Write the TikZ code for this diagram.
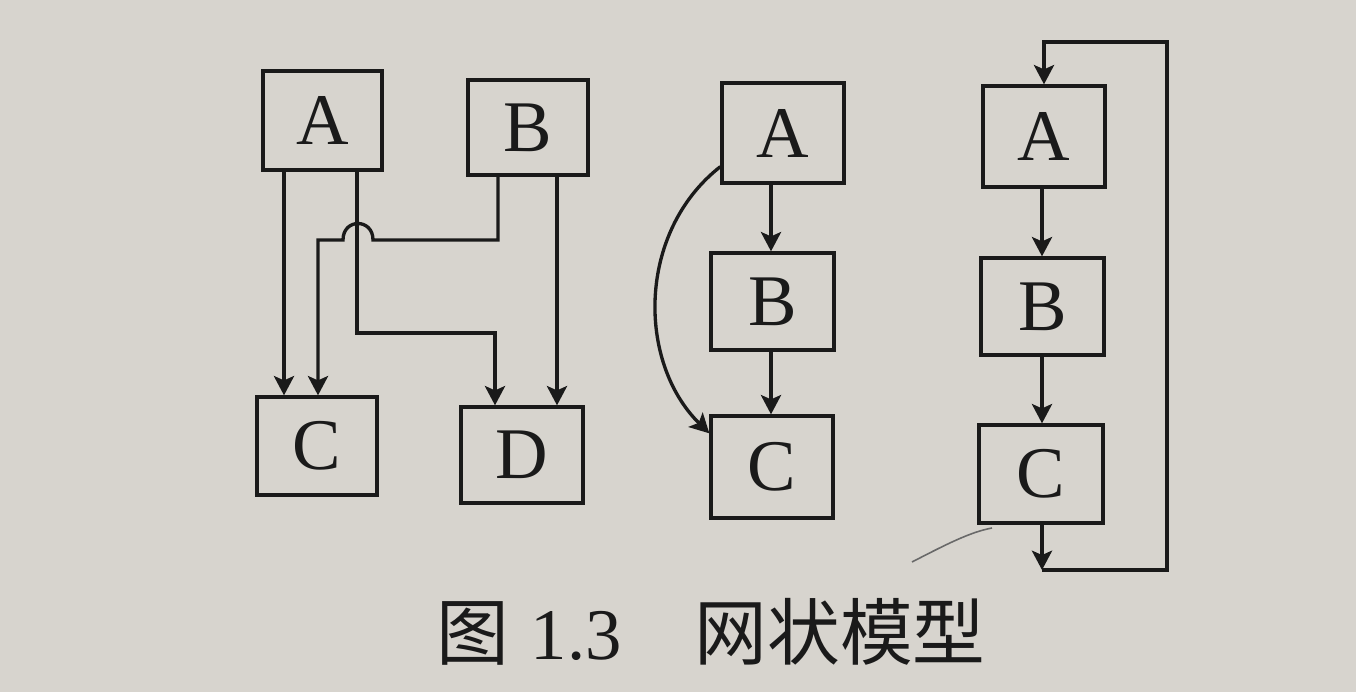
\documentclass[tikz,border=0pt]{standalone}
\usepackage{fontspec}
\setmainfont{Liberation Serif}
\newfontfamily\cjk{Noto Sans CJK SC}
\usetikzlibrary{arrows.meta,calc}
\definecolor{paper}{RGB}{215,212,206}
\definecolor{ink}{RGB}{26,26,26}
\definecolor{pencil}{RGB}{105,105,105}
\begin{document}
\begin{tikzpicture}[x=0.02cm,y=-0.02cm,
  box/.style={draw=ink, line width=1.9pt, inner sep=0pt, text=ink, font=\fontsize{41.4}{48}\selectfont},
  wire/.style={draw=ink, line width=1.9pt},
  arr/.style={wire,-{Stealth[length=11pt,width=11.5pt,inset=2.5pt]}},
]
\fill[paper] (0,0) rectangle (1356,692);
\useasboundingbox (0,0) rectangle (1356,692);

% diagram 1
\node[box, minimum width=2.38cm, minimum height=1.98cm] (A1) at (322.5,120.5) {A};
\node[box, minimum width=2.40cm, minimum height=1.90cm] (B1) at (528,127.5) {B};
\node[box, minimum width=2.40cm, minimum height=1.96cm] (C1) at (317,446) {C};
\node[box, minimum width=2.44cm, minimum height=1.92cm] (D1) at (522,455) {D};

\coordinate (p1) at (284,0);
\draw[arr] (A1.south -| p1) -- (C1.north -| p1);
\coordinate (p2) at (357,333);
\coordinate (p3) at (495,333);
\draw[arr] (A1.south -| p2) -- (p2) -- (p3) -- (D1.north -| p3);
\coordinate (q1) at (498,240);
\coordinate (q2) at (373,240);
\coordinate (q3) at (343,240);
\coordinate (q4) at (318,240);
\draw[arr] (B1.south -| q1) -- (q1) -- (q2) .. controls (373,218) and (343,218) .. (q3) -- (q4) -- (C1.north -| q4);
\coordinate (q5) at (557,0);
\draw[arr] (B1.south -| q5) -- (D1.north -| q5);

% diagram 2
\node[box, minimum width=2.44cm, minimum height=2.00cm] (A2) at (783,133) {A};
\node[box, minimum width=2.46cm, minimum height=1.94cm] (B2) at (772.5,301.5) {B};
\node[box, minimum width=2.44cm, minimum height=2.04cm] (C2) at (772,467) {C};
\coordinate (r1) at (771,0);
\draw[arr] (A2.south -| r1) -- (B2.north -| r1);
\draw[arr] (B2.south -| r1) -- (C2.north -| r1);
\draw[arr] ($(A2.south west)+(0,-18)$) .. controls (637,232) and (637,362) .. ($(C2.north west)+(0,19)$);

% diagram 3
\node[box, minimum width=2.44cm, minimum height=2.02cm] (A3) at (1044,136.5) {A};
\node[box, minimum width=2.46cm, minimum height=1.94cm] (B3) at (1042.5,306.5) {B};
\node[box, minimum width=2.48cm, minimum height=1.96cm] (C3) at (1041,474) {C};
\coordinate (s1) at (1042,0);
\draw[arr] (A3.south -| s1) -- (B3.north -| s1);
\draw[arr] (B3.south -| s1) -- (C3.north -| s1);
\coordinate (s2) at (1042,570);
\coordinate (s3) at (1167,570);
\coordinate (s4) at (1167,42);
\coordinate (s5) at (1044,42);
\draw[arr] (C3.south -| s2) -- (s2);
\draw[arr] (s2) -- (s3) -- (s4) -- (s5) -- (A3.north -| s5);

% pencil mark
\draw[pencil, line width=0.9pt] (912,562) .. controls (945,545) and (970,532) .. (992,528);

% caption
\node[anchor=base west, inner sep=0pt, text=ink, font=\fontsize{41.4}{48}\selectfont] (cap) at (436,659)
  {{\cjk 图}\hspace{0.3em}1.3\hspace{1.0em}{\cjk 网状模型}};
\end{tikzpicture}
\end{document}
